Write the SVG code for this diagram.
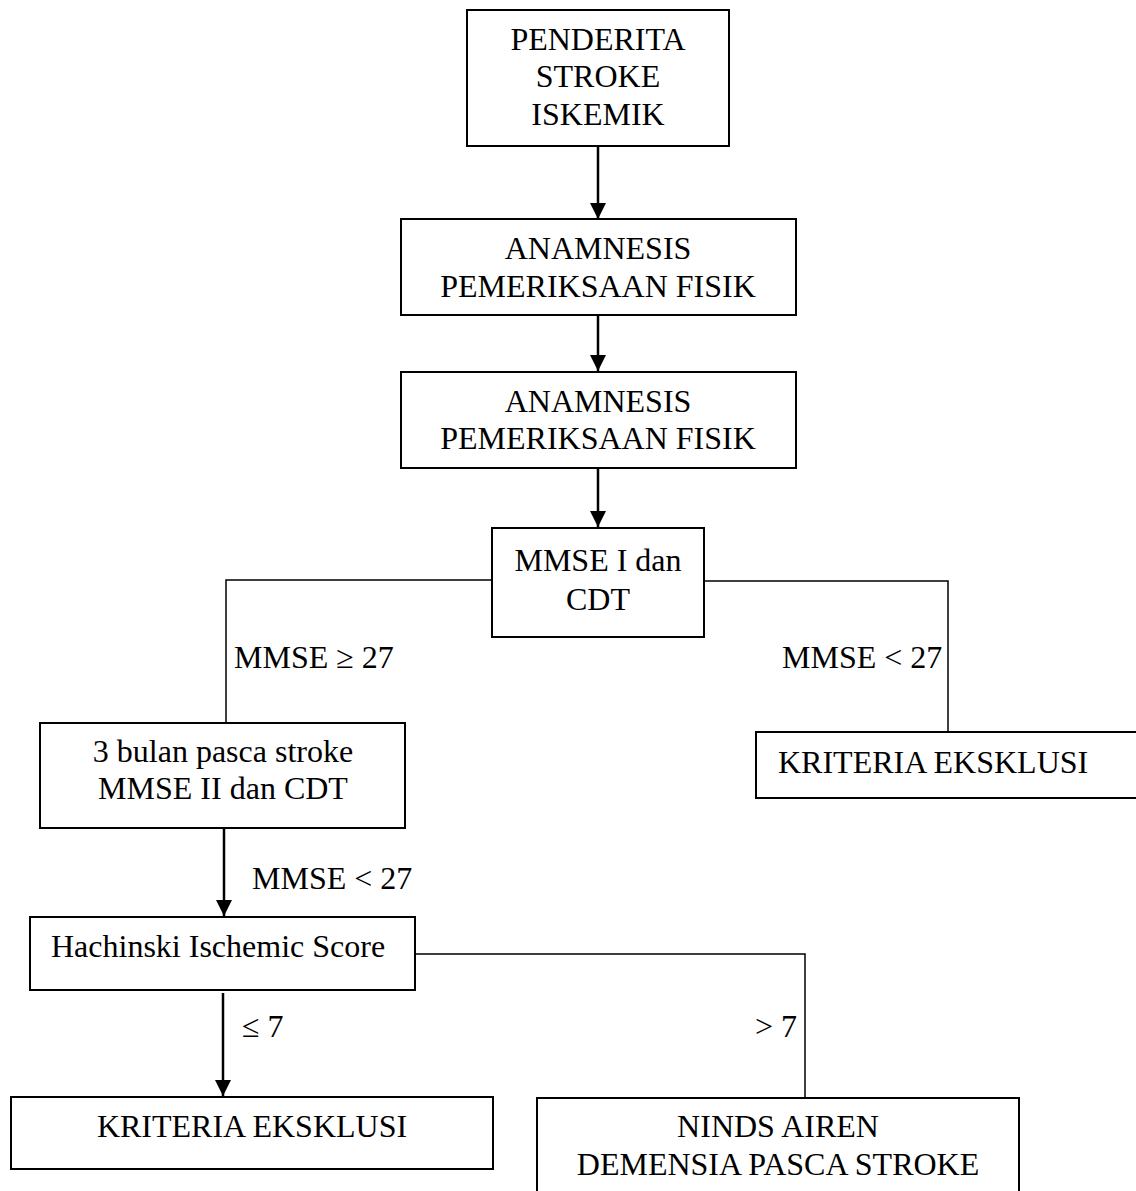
<svg xmlns="http://www.w3.org/2000/svg" width="1136" height="1191" viewBox="0 0 1136 1191">
<style>
.box{fill:#fff;stroke:#000;stroke-width:2}
.t{font-family:"Liberation Serif","Times New Roman",serif;font-size:32px;fill:#000}
.c{text-anchor:middle}
.arr{fill:none;stroke:#000;stroke-width:2.5}
.br{fill:none;stroke:#000;stroke-width:1.5}
</style>
<defs>
<marker id="ah" markerUnits="userSpaceOnUse" markerWidth="16" markerHeight="20" refX="16" refY="8" orient="auto">
<polygon points="0,0 16,8 0,16" fill="#000"/>
</marker>
</defs>
<rect width="1136" height="1191" fill="#fff"/>
<g id="connectors">
<line class="arr" x1="598" y1="146" x2="598" y2="219" marker-end="url(#ah)"/>
<line class="arr" x1="598" y1="315" x2="598" y2="371" marker-end="url(#ah)"/>
<line class="arr" x1="598" y1="468" x2="598" y2="527" marker-end="url(#ah)"/>
<polyline class="br" points="492,580 226,580 226,723"/>
<polyline class="br" points="704,581 948,581 948,732"/>
<line class="arr" x1="224" y1="828" x2="224" y2="916" marker-end="url(#ah)"/>
<line class="arr" x1="223" y1="993" x2="223" y2="1096" marker-end="url(#ah)"/>
<polyline class="br" points="415,954 805,954 805,1098"/>
<text class="t" x="234" y="668">MMSE ≥ 27</text>
<text class="t" x="782" y="668">MMSE &lt; 27</text>
<text class="t" x="252" y="889">MMSE &lt; 27</text>
<text class="t" x="242" y="1037">≤ 7</text>
<text class="t" x="755" y="1037">&gt; 7</text>
</g>
<g id="n1">
<rect class="box" x="467" y="10" width="262" height="136"/>
<text class="t c" x="598" y="50">PENDERITA</text>
<text class="t c" x="598" y="87">STROKE</text>
<text class="t c" x="598" y="125">ISKEMIK</text>
</g>
<g id="n2">
<rect class="box" x="401" y="219" width="395" height="96"/>
<text class="t c" x="598" y="259">ANAMNESIS</text>
<text class="t c" x="598" y="297">PEMERIKSAAN FISIK</text>
</g>
<g id="n3">
<rect class="box" x="401" y="372" width="395" height="96"/>
<text class="t c" x="598" y="412">ANAMNESIS</text>
<text class="t c" x="598" y="449">PEMERIKSAAN FISIK</text>
</g>
<g id="n4">
<rect class="box" x="492" y="528" width="212" height="109"/>
<text class="t c" x="598" y="571">MMSE I dan</text>
<text class="t c" x="598" y="610">CDT</text>
</g>
<g id="n5">
<rect class="box" x="756" y="732" width="400" height="66"/>
<text class="t" x="778" y="773">KRITERIA EKSKLUSI</text>
</g>
<g id="n6">
<rect class="box" x="40" y="723" width="365" height="105"/>
<text class="t c" x="223" y="762">3 bulan pasca stroke</text>
<text class="t c" x="223" y="799">MMSE II dan CDT</text>
</g>
<g id="n7">
<rect class="box" x="30" y="917" width="385" height="73"/>
<text class="t" x="51" y="957">Hachinski Ischemic Score</text>
</g>
<g id="n8">
<rect class="box" x="11" y="1097" width="482" height="72"/>
<text class="t c" x="252" y="1137">KRITERIA EKSKLUSI</text>
</g>
<g id="n9">
<rect class="box" x="537" y="1098" width="482" height="120"/>
<text class="t c" x="778" y="1137">NINDS AIREN</text>
<text class="t c" x="778" y="1175">DEMENSIA PASCA STROKE</text>
</g>
</svg>
